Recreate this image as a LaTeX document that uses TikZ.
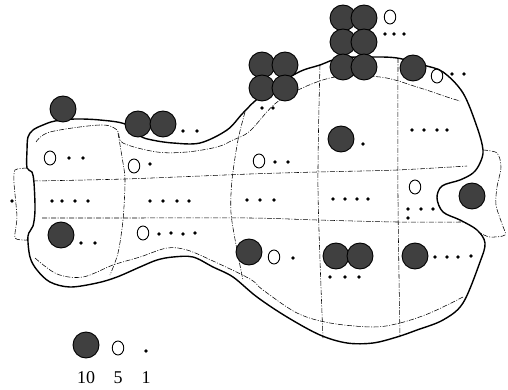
\documentclass[tikz,border=0pt]{standalone}
\usepackage{fontspec}
\setmainfont{Liberation Serif}
\usetikzlibrary{shapes.geometric}
\begin{document}
\begin{tikzpicture}[x=1pt,y=-1pt,
  outline/.style={line width=1.4pt,line join=round},
  dashline/.style={line width=0.55pt,dash pattern=on 5pt off 1.5pt on 1pt off 1.5pt},
  bigc/.style={circle,fill=black!75,draw=black,line width=0.9pt,minimum size=26pt,inner sep=0pt},
  openc/.style={ellipse,draw=black,line width=0.9pt,minimum width=11.5pt,minimum height=14pt,inner sep=0pt},
  dotc/.style={circle,fill=black,minimum size=3.6pt,inner sep=0pt},
  lbl/.style={font=\fontsize{18}{20}\selectfont,inner sep=0pt}]
\useasboundingbox (0,0) rectangle (508,390);
% thick outline
\draw[outline] plot[smooth cycle,tension=0.55] coordinates {
(27,150) (28,137) (33,130) (43,125) (55,121) (75,119) (100,120) (125,124)
(140,136) (152,140) (173,143) (200,143) (227,130) (243,113) (260,97) (297,73)
(320,65) (340,58) (370,57) (397,58) (423,65) (443,72) (463,93) (477,127)
(483,150) (480,163) (473,173) (460,180) (442,186) (437,198) (443,212) (460,220)
(477,230) (485,243) (480,262) (463,303) (443,320) (417,330) (397,337) (373,343)
(347,343) (320,335) (287,317) (257,297) (233,277) (213,267) (193,257) (173,257)
(157,260) (140,267) (117,277) (97,283) (70,287) (50,282) (37,270) (30,257)
(28,236) (33,226) (35,210) (34,183) (32,172) (27,168)};
% inner dash-dot outline
\draw[dashline] plot[smooth,tension=0.55] coordinates {
(36,142) (50,132) (100,125) (117,130) (123,143) (157,152) (187,152) (217,147)
(233,140) (250,131) (280,100) (330,78) (380,77) (417,87) (447,97) (460,101)};
\draw[dashline] plot[smooth,tension=0.55] coordinates {
(463,297) (430,313) (400,323) (373,327) (330,323) (297,313) (263,290) (250,279)
(213,261) (187,250) (167,248) (140,257) (113,265) (83,277) (57,274) (35,258)};
% horizontal dash-dot lines
\draw[dashline] plot[smooth] coordinates {(33,181) (125,179) (250,174) (317,172) (397,170) (467,166)};
\draw[dashline] plot[smooth] coordinates {(42,218) (123,218) (250,218) (317,220) (397,222) (463,222)};
% vertical dash-dot lines
\draw[dashline] plot[smooth] coordinates {(118,133) (122,157) (125,180) (123,220) (118,253) (110,275)};
\draw[dashline] plot[smooth] coordinates {(245,112) (238,140) (232,180) (231,213) (237,250) (243,280)};
\draw[dashline] plot[smooth] coordinates {(320,65) (318,190) (323,338)};
\draw[dashline] plot[smooth] coordinates {(398,58) (398,200) (400,337)};
% side tabs
\draw[dashline] plot[smooth,tension=0.5] coordinates {(483,150) (497,153) (501,167) (497,187) (496,205) (502,224) (505,235) (490,237) (480,233)};
\draw[dashline] plot[smooth,tension=0.4] coordinates {(27,168) (15,170) (14,183) (17,217) (15,238) (27,240)};
% big circles
\foreach \p [count=\i] in {(63,109),(138,124),(163,124),
  (262,65),(285,65),(262,88),(285,88),
  (343,18),(364,18),(343,42),(364,42),(343,67),(364,67),
  (413,68),(341,139),(472,196),(61,235),(249,252),(336,256),(360,256),(415,256)}
  \node[bigc] (b\i) at \p {};
% open circles
\foreach \p [count=\i] in {(50,158),(134,166),(143,233),(390,17),(437,76),(259,161),(415,187),(274,257)}
  \node[openc] (o\i) at \p {};
% dots
\foreach \p [count=\i] in {(183,131),(197,131),(69,158),(83,158),(150,164),
  (12,201),(52,201),(62,201),(75,201),(88,201),(150,201),(163,201),(177,201),(189,201),
  (81,243),(95,243),(159,234),(171,233),(183,234),(195,233),
  (385,34),(394,34),(404,34),(452,74),(464,74),(262,108),(273,108),
  (363,144),(412,130),(424,130),(437,130),(447,130),(275,162),(288,162),
  (247,200),(260,200),(274,200),(333,199),(345,199),(357,199),(368,199),
  (408,209),(421,209),(433,209),(408,218),
  (293,258),(330,277),(345,277),(359,277),(435,257),(447,257),(458,257),(471,256)}
  \node[dotc] (d\i) at \p {};
% legend
\node[bigc] (lg10) at (86,345) {};
\node[openc] (lg5) at (118,348) {};
\node[dotc] (lg1) at (146,351) {};
\node[lbl] (t10) at (86,378) {10};
\node[lbl] (t5) at (118,378) {5};
\node[lbl] (t1) at (146,378) {1};
\end{tikzpicture}
\end{document}
